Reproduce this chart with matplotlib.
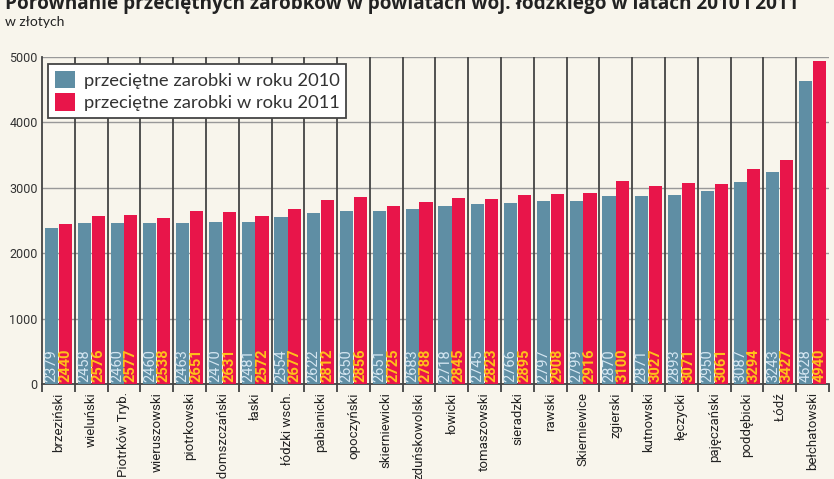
import matplotlib.pyplot as plt
import numpy as np

powiaty = ["brzeziński", "wieluński", "Piotrków Tryb.", "wieruszowski", "piotrkowski",
           "radomszczański", "łaski", "łódzki wsch.", "pabianicki", "opoczyński",
           "skierniewicki", "zduńskowolski", "łowicki", "tomaszowski", "sieradzki",
           "rawski", "Skierniewice", "zgierski", "kutnowski", "łęczycki",
           "pajęczański", "poddębicki", "Łódź", "bełchatowski"]
zarobki_2010 = [2379, 2458, 2460, 2460, 2463, 2470, 2481, 2554, 2622, 2650,
                2651, 2683, 2718, 2745, 2766, 2797, 2799, 2870, 2871, 2893,
                2950, 3087, 3243, 4628]
zarobki_2011 = [2440, 2576, 2577, 2538, 2651, 2631, 2572, 2677, 2812, 2856,
                2725, 2788, 2845, 2823, 2895, 2908, 2916, 3100, 3027, 3071,
                3061, 3294, 3427, 4940]

tlo = "#f8f5ec"
niebieski = "#5f8ea4"
czerwony = "#e8154a"
narrow = ["Liberation Sans Narrow", "Roboto", "DejaVu Sans"]

fig = plt.figure(figsize=(8.34, 4.79), dpi=100, facecolor=tlo)
ax = fig.add_axes([42 / 834, 1 - 384 / 479, 787 / 834, 327 / 479])
ax.set_facecolor(tlo)

x = np.arange(len(powiaty))
w = 0.4
ax.bar(x - 0.21, zarobki_2010, width=w, color=niebieski, label="przeciętne zarobki w roku 2010", zorder=3)
ax.bar(x + 0.21, zarobki_2011, width=w, color=czerwony, label="przeciętne zarobki w roku 2011", zorder=3)

for i in range(len(powiaty)):
    ax.text(x[i] - 0.21, 25, str(zarobki_2010[i]), rotation=90, ha="center", va="bottom",
            color="#d4e6f1", fontsize=10.5, family=narrow, zorder=4)
    ax.text(x[i] + 0.21, 25, str(zarobki_2011[i]), rotation=90, ha="center", va="bottom",
            color="#ffc21a", fontsize=10.5, fontweight="bold", family=narrow, zorder=4)

ax.set_xlim(-0.5, len(powiaty) - 0.5)
ax.set_ylim(0, 5000)
ax.set_yticks([0, 1000, 2000, 3000, 4000, 5000])
ax.tick_params(axis="y", length=0, labelsize=9, colors="#333333", pad=3)
for lab in ax.get_yticklabels():
    lab.set_family(narrow)
ax.yaxis.grid(True, color="#999999", linewidth=1, zorder=1)

# separatory miedzy grupami
for b in np.arange(0.5, len(powiaty) - 0.5, 1):
    ax.axvline(b, color="#444444", linewidth=1.3, zorder=2)
ax.set_xticks(np.arange(-0.5, len(powiaty), 1), minor=True)
ax.tick_params(axis="x", which="minor", length=6, width=1.3, color="#444444")
ax.set_xticks(x)
ax.set_xticklabels(powiaty, rotation=90, fontsize=9.5, family=narrow, color="#222222")
ax.tick_params(axis="x", which="major", length=0, pad=6)

for s in ["top", "right"]:
    ax.spines[s].set_visible(False)
ax.spines["left"].set_color("#444444")
ax.spines["bottom"].set_color("#444444")
ax.spines["left"].set_linewidth(1.3)
ax.spines["bottom"].set_linewidth(1.3)

leg = ax.legend(loc="upper left", bbox_to_anchor=(0.001, 0.995),
                prop={"family": "Lato", "size": 13.2}, frameon=True, fancybox=False,
                handlelength=1.1, handleheight=1.1, handletextpad=0.5,
                borderpad=0.35, labelspacing=0.25, borderaxespad=0.3)
leg.get_frame().set_edgecolor("#444444")
leg.get_frame().set_linewidth(1.3)
leg.get_frame().set_facecolor("white")
leg.get_frame().set_alpha(1)
leg.set_zorder(5)
for t in leg.get_texts():
    t.set_color("#333333")

fig.text(5 / 834, 1 - 9 / 479, "Porównanie przeciętnych zarobków w powiatach woj. łódzkiego w latach 2010 i 2011",
         fontsize=13.7, fontweight="bold", family="Open Sans", color="#222222", va="baseline")
fig.text(5 / 834, 1 - 25.5 / 479, "w złotych", fontsize=10, family="Lato", color="#222222", va="baseline")

fig.savefig("out.png", dpi=100, facecolor=tlo)
